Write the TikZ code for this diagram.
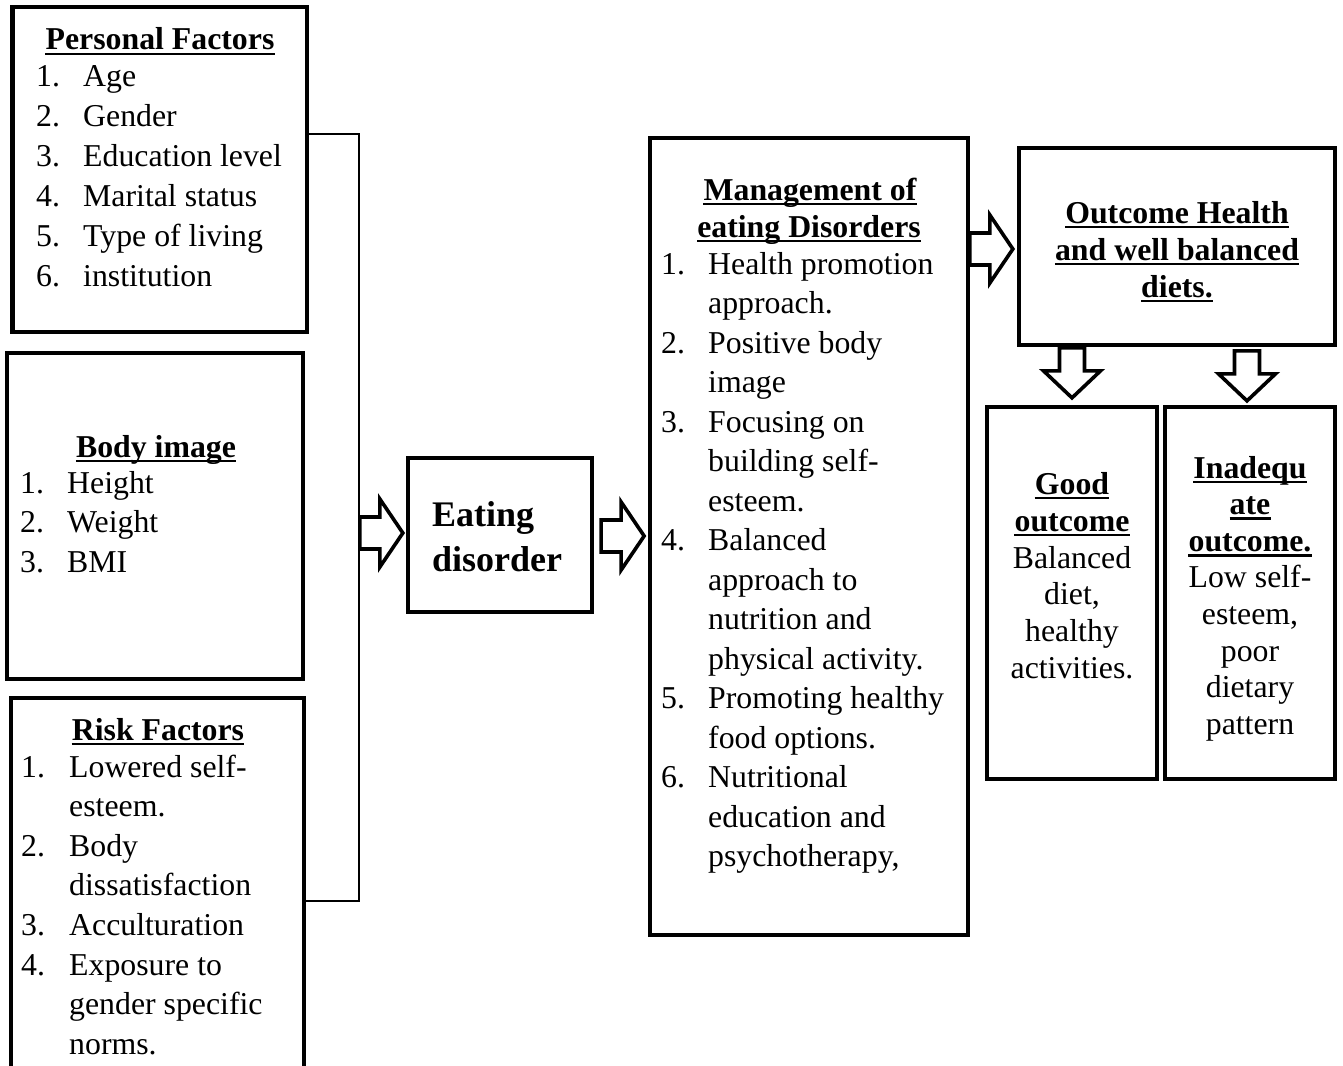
\documentclass[tikz,border=0pt]{standalone}
\usepackage{fontspec}
\setmainfont{Liberation Serif}
\usetikzlibrary{calc}

\tikzset{
  box/.style={draw, rectangle, line width=4.3pt, inner sep=0pt},
  txt/.style={inner sep=0pt, anchor=base west, font=\fontsize{31.8}{39.6}\selectfont},
  ctr/.style={txt, anchor=base},
  head/.style={inner sep=0pt, anchor=base, font=\fontsize{31.8}{39.6}\selectfont\bfseries},
  uline/.style={line width=2.6pt},
  blk/.style={draw, line width=3.6pt, fill=white, line join=miter},
  brace/.style={line width=2pt}
}
% hollow block arrows, tail centre given
\newcommand\rarrow[1]{\draw[blk] ($#1+(0,-16)$) -- ++(20,0) -- ++(0,-18) -- ++(23,34) -- ++(-23,34) -- ++(0,-18) -- ++(-20,0) -- cycle;}
\newcommand\darrow[1]{\draw[blk] ($#1+(-12.5,0)$) -- ++(0,23) -- ++(-16,0) -- ++(28.5,27) -- ++(28.5,-27) -- ++(-16,0) -- ++(0,-23) -- cycle;}

\begin{document}
\begin{tikzpicture}[x=1pt,y=-1pt]
\useasboundingbox (0,0) rectangle (1343,1065);
\clip (0,0) rectangle (1343,1065);

% boxes
\node[box, minimum width=294.5pt, minimum height=325pt] (pf) at (159.75,169.5) {};
\node[box, minimum width=296pt, minimum height=326pt] (bi) at (155,516) {};
\node[box, minimum width=293pt, minimum height=402pt] (rf) at (157.5,899) {};
\node[box, minimum width=184pt, minimum height=154pt] (ed) at (500,535) {};
\node[box, minimum width=318pt, minimum height=797pt] (mg) at (809,536.5) {};
\node[box, minimum width=316pt, minimum height=197pt] (oh) at (1177,246.5) {};
\node[box, minimum width=170pt, minimum height=372pt] (go) at (1072,593) {};
\node[box, minimum width=170pt, minimum height=372pt] (ia) at (1250,593) {};

% personal factors
\node[head] (pf-h) at (160,50) {Personal Factors};
\foreach \t [count=\k from 0] in {Age, Gender, Education level, Marital status, Type of living, institution}{
  \node[txt] (pf-n\k) at (36,86+40*\k) {\the\numexpr\k+1\relax.};
  \node[txt] (pf-l\k) at (83,86+40*\k) {\t};
}

% body image
\node[head] (bi-h) at (156,457) {Body image};
\foreach \t [count=\k from 0] in {Height, Weight, BMI}{
  \node[txt] (bi-n\k) at (20,493+39.7*\k) {\the\numexpr\k+1\relax.};
  \node[txt] (bi-l\k) at (67,493+39.7*\k) {\t};
}

% risk factors
\node[head] (rf-h) at (158,740) {Risk Factors};
\foreach \t [count=\k from 0] in {Lowered self-, esteem., Body, dissatisfaction, Acculturation, Exposure to, gender specific, norms.}
  \node[txt] (rf-l\k) at (69,777+39.6*\k) {\t};
\foreach \n/\k in {1/0,2/2,3/4,4/5}
  \node[txt] (rf-n\n) at (21,777+39.6*\k) {\n.};

% eating disorder
\node[txt, font=\fontsize{36}{45}\selectfont\bfseries] (ed-1) at (432,526) {Eating};
\node[txt, font=\fontsize{36}{45}\selectfont\bfseries] (ed-2) at (432,571) {disorder};

% management
\node[head] (mg-h1) at (810,200) {Management of};
\node[head] (mg-h2) at (809,237) {eating Disorders};
\foreach \t [count=\k from 0] in {Health promotion, approach., Positive body, image, Focusing on, building self-, esteem., Balanced, approach to, nutrition and, physical activity., Promoting healthy, food options., Nutritional, education and, {psychotherapy,}}
  \node[txt] (mg-l\k) at (708,274+39.5*\k) {\t};
\foreach \n/\k in {1/0,2/2,3/4,4/7,5/11,6/13}
  \node[txt] (mg-n\n) at (661,274+39.5*\k) {\n.};

% outcome
\node[head] (oh-h1) at (1177,223) {Outcome Health};
\node[head] (oh-h2) at (1177,260) {and well balanced};
\node[head] (oh-h3) at (1177,297) {diets.};

\node[head] (go-h1) at (1072,494) {Good};
\node[head] (go-h2) at (1072,531) {outcome};
\foreach \t [count=\k from 0] in {Balanced, {diet,}, healthy, activities.}
  \node[ctr] (go-l\k) at (1072,568+36.8*\k) {\t};

\node[head] (ia-h1) at (1250,478) {Inadequ};
\node[head] (ia-h2) at (1250,514.6) {ate};
\node[head] (ia-h3) at (1250,551.2) {outcome.};
\foreach \t [count=\k from 0] in {Low self-, {esteem,}, poor, dietary, pattern}
  \node[ctr] (ia-l\k) at (1250,587.8+36.6*\k) {\t};

% underlines
\foreach \h in {pf-h, bi-h, rf-h, mg-h1, mg-h2, oh-h1, oh-h2, oh-h3, go-h1, go-h2, ia-h1, ia-h2, ia-h3}
  \draw[uline] ([yshift=-4pt]\h.base west) -- ([yshift=-4pt]\h.base east);

% bracket joining the three left boxes
\coordinate (b1) at ($(pf.east)+(0,-35.5)$);
\coordinate (b2) at ($(rf.east)+(0,2)$);
\draw[brace] (b1) -- ++(50,0) |- (b2);

% block arrows
\coordinate (a1) at ($(ed.west)+(-46,-2)$);
\coordinate (a2) at ($(ed.east)+(7,1)$);
\coordinate (a3) at ($(oh.west)+(-47,2.5)$);
\coordinate (a4) at ($(go.north)+(0,-57)$);
\coordinate (a5) at ($(ia.north)+(-3,-54)$);
\rarrow{(a1)}
\rarrow{(a2)}
\rarrow{(a3)}
\darrow{(a4)}
\darrow{(a5)}
\end{tikzpicture}
\end{document}
